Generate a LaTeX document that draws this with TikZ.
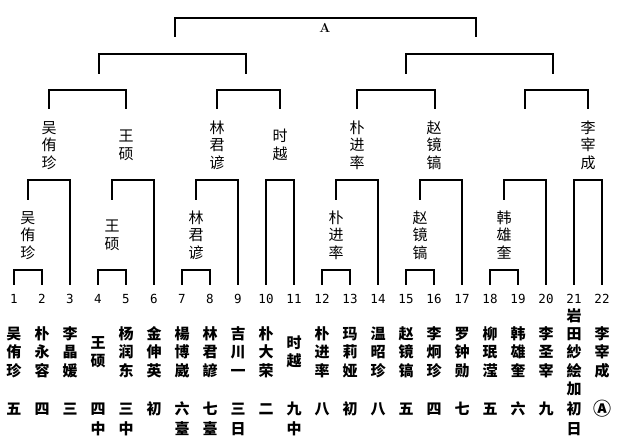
\documentclass[tikz,border=0pt]{standalone}
\usepackage{fontspec}
\newfontfamily\cjk{Noto Sans CJK SC}
\newfontfamily\mono{DejaVu Sans Mono}
\newcommand\stk[3]{\vbox{\offinterlineskip\def\stkD{#1}\def\stkT{#2}\expandafter\stkloop#3\relax}}
\def\stkloop#1{\ifx\relax#1\else\hbox to 1.2em{\hss\rule[-\stkD]{0pt}{\stkT}#1\hss}\expandafter\stkloop\fi}
\newcommand\lblS[1]{\stk{3.05pt}{17.5pt}{#1}}
\newcommand\nmS[1]{\stk{3.45pt}{18.3pt}{#1}}
\newcommand\rkS[1]{\stk{4.3pt}{20pt}{#1}}
\newcommand\bigA{\raisebox{-1pt}{\fontsize{18}{20}\selectfont Ⓐ}}
\tikzset{
  br/.style={line width=1.1pt, line cap=rect},
  lbl/.style={font=\cjk\fontsize{15}{17.5}\selectfont, inner sep=0pt},
  num/.style={font=\mono\fontsize{12.5}{14}\selectfont, inner sep=0pt},
  nm/.style={font=\cjk\bfseries\fontsize{15}{18.3}\selectfont, inner sep=0pt},
  rk/.style={font=\cjk\bfseries\fontsize{15}{20}\selectfont, inner sep=0pt, anchor=north},
  ttl/.style={font=\bfseries\fontsize{13}{14}\selectfont, inner sep=0pt},
}
\begin{document}
\begin{tikzpicture}[x=1pt,y=-1pt]
\useasboundingbox (0,0) rectangle (617,441);
% final
\draw[br] (175,36) -- (175,18) -- (476,18) -- (476,36);
\node[ttl] (champ) at (325,28) {A};
% semifinals
\draw[br] (99,73) -- (99,54) -- (246,54) -- (246,73);
\draw[br] (406,73) -- (406,54) -- (553,54) -- (553,73);
% quarterfinals
\foreach \a/\b in {49/126,217/280,357/435,525/588}
  \draw[br] (\a,108) -- (\a,90) -- (\b,90) -- (\b,108);
% level 3 labels
\foreach \x/\s [count=\k] in {49/吴侑珍,126/王硕,217/林君谚,280/时越,357/朴进率,434/赵镜镐,588/李宰成}
  \node[lbl] (q\k) at (\x,145) {\lblS{\s}};
% level 2 brackets
\foreach \a/\b in {28/70,112/154,196/238,336/378,420/462,504/546}
  \draw[br] (\a,199) -- (\a,180) -- (\b,180) -- (\b,284);
\foreach \a/\b in {266/294,574/602}
  \draw[br] (\a,284) -- (\a,180) -- (\b,180) -- (\b,284);
% level 2 labels
\foreach \x/\s [count=\k] in {28/吴侑珍,112/王硕,196/林君谚,336/朴进率,420/赵镜镐,504/韩雄奎}
  \node[lbl] (s\k) at (\x,235) {\lblS{\s}};
% first round brackets
\foreach \a in {14,98,182,322,406,490}
  \draw[br] (\a,284) -- (\a,270) -- (\a+28,270) -- (\a+28,284);
% numbers
\foreach \i in {1,...,22}
  \node[num] (n\i) at ({14+28*(\i-1)},299) {\i};
% names
\foreach \i/\s in {1/吴侑珍,2/朴永容,3/李晶媛,4/王硕,5/杨润东,6/金伸英,7/楊博崴,8/林君諺,9/吉川一,10/朴大荣,11/时越,12/朴进率,13/玛莉娅,14/温昭珍,15/赵镜镐,16/李炯珍,17/罗钟勋,18/柳珉滢,19/韩雄奎,20/李圣宰,21/岩田紗絵加,22/李宰成}
  \node[nm] (p\i) at ({14+28*(\i-1)},352) {\nmS{\s}};
% ranks
\foreach \i/\s in {1/五,2/四,3/三,4/四中,5/三中,6/初,7/六臺,8/七臺,9/三日,10/二,11/九中,12/八,13/初,14/八,15/五,16/四,17/七,18/五,19/六,20/九,21/初日,22/\bigA}
  \node[rk] (r\i) at ({14+28*(\i-1)},399) {\rkS{\s}};
\end{tikzpicture}
\end{document}
